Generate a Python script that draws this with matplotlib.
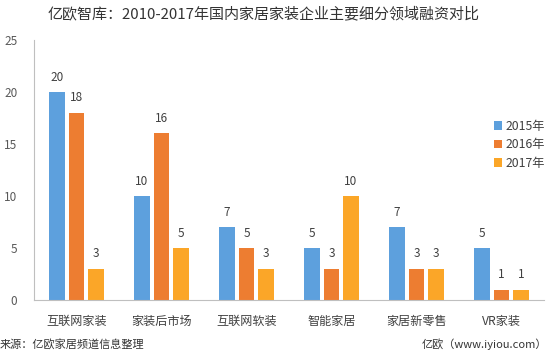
import numpy as np
import matplotlib.pyplot as plt

plt.rcParams['font.family'] = ['Noto Sans CJK SC', 'DejaVu Sans']

categories = ['互联网家装', '家装后市场', '互联网软装', '智能家居', '家居新零售', 'VR家装']
years = ['2015年', '2016年', '2017年']
v2015 = [20, 10, 7, 5, 7, 5]
v2016 = [18, 16, 5, 3, 3, 1]
v2017 = [3, 5, 3, 10, 3, 1]
colors = ['#5DA0DD', '#ED7D31', '#FBA628']

fig = plt.figure(figsize=(5.5, 3.54), dpi=100)
ax = fig.add_axes([0.062, 0.1525, 0.927, 0.735])

x = np.arange(len(categories))
w = 0.18
step = 0.23
for i, (vals, c, lab) in enumerate(zip([v2015, v2016, v2017], colors, years)):
    pos = x + (i - 1) * step
    ax.bar(pos, vals, width=w, color=c, label=lab)
    for p, v in zip(pos, vals):
        ax.text(p, v + 0.8, str(v), ha='center', va='bottom', fontsize=8.5, color='#404040')

ax.set_xlim(-0.5, len(categories) - 0.5)
ax.set_ylim(0, 25)
ax.set_yticks([0, 5, 10, 15, 20, 25])
ax.set_xticks(x)
ax.set_xticklabels(categories, fontsize=8.7, color='#404040')
ax.tick_params(axis='y', length=0, labelsize=8.5, labelcolor='#595959', pad=12)
ax.tick_params(axis='x', length=0, pad=11)
for s in ['top', 'right']:
    ax.spines[s].set_visible(False)
ax.spines['left'].set_color('#BFBFBF')
ax.spines['bottom'].set_color('#BFBFBF')

ax.legend(loc='upper left', bbox_to_anchor=(0.88, 0.735), frameon=False, fontsize=8.8,
          handlelength=0.7, handleheight=0.7, handletextpad=0.3, labelspacing=0.45,
          labelcolor='#404040')

fig.text(0.48, 0.962, '亿欧智库：2010-2017年国内家居家装企业主要细分领域融资对比',
         ha='center', va='center', fontsize=10.8, color='#333333')
fig.text(0.0, 0.028, '来源：亿欧家居频道信息整理', ha='left', va='center', fontsize=8, color='#333333')
fig.text(0.995, 0.028, '亿欧（www.iyiou.com）', ha='right', va='center', fontsize=8, color='#333333')

fig.savefig('out.png', dpi=100)
